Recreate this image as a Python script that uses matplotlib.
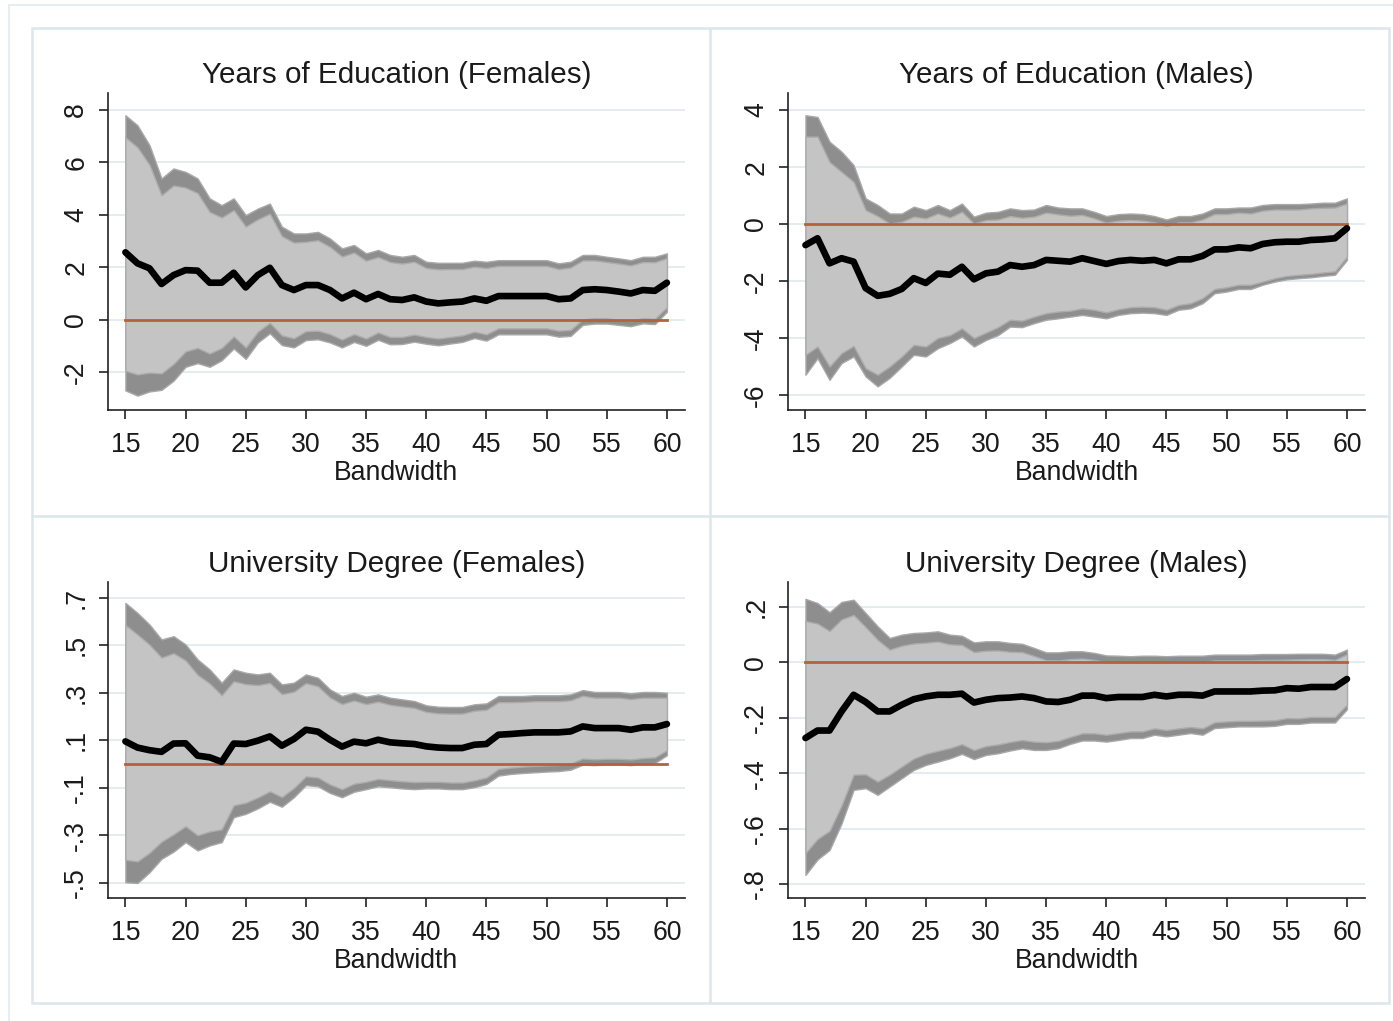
import matplotlib
matplotlib.use("Agg")
import matplotlib.pyplot as plt
from matplotlib.lines import Line2D
from matplotlib.patches import Rectangle

plt.rcParams['font.family'] = ['Liberation Sans', 'DejaVu Sans']

bandwidth = list(range(15, 61))
xticks = [15, 20, 25, 30, 35, 40, 45, 50, 55, 60]

# Years of education, females
edu_f_est = [2.57, 2.15, 1.96, 1.36, 1.70, 1.89, 1.87, 1.41, 1.41, 1.79, 1.23, 1.70, 1.98, 1.32, 1.13, 1.32,
             1.32, 1.13, 0.81, 1.03, 0.78, 0.98, 0.78, 0.75, 0.85, 0.69, 0.62, 0.66, 0.69, 0.81, 0.72, 0.90,
             0.90, 0.90, 0.90, 0.90, 0.78, 0.81, 1.13, 1.16, 1.13, 1.07, 1.00, 1.13, 1.10, 1.41]
edu_f_hi95 = [7.80, 7.42, 6.66, 5.39, 5.77, 5.64, 5.39, 4.63, 4.37, 4.63, 3.99, 4.24, 4.43, 3.55, 3.29, 3.29,
              3.35, 3.10, 2.72, 2.85, 2.53, 2.66, 2.47, 2.40, 2.47, 2.21, 2.17, 2.17, 2.17, 2.25, 2.21, 2.27,
              2.27, 2.27, 2.27, 2.27, 2.15, 2.21, 2.47, 2.47, 2.40, 2.34, 2.27, 2.40, 2.40, 2.53]
edu_f_lo95 = [-2.70, -2.90, -2.74, -2.68, -2.33, -1.80, -1.66, -1.80, -1.55, -1.10, -1.50, -0.87, -0.52, -0.97,
              -1.06, -0.78, -0.75, -0.87, -1.06, -0.85, -1.00, -0.77, -0.94, -0.93, -0.84, -0.92, -0.98, -0.91,
              -0.85, -0.70, -0.80, -0.56, -0.56, -0.56, -0.56, -0.56, -0.65, -0.62, -0.20, -0.15, -0.15, -0.20,
              -0.25, -0.14, -0.17, 0.30]
edu_f_hi90 = [6.96, 6.58, 5.91, 4.75, 5.12, 5.04, 4.83, 4.11, 3.90, 4.18, 3.55, 3.83, 4.04, 3.19, 2.94, 2.97,
              3.03, 2.78, 2.41, 2.56, 2.25, 2.39, 2.20, 2.14, 2.21, 1.97, 1.92, 1.93, 1.93, 2.02, 1.97, 2.05,
              2.05, 2.05, 2.05, 2.05, 1.93, 1.99, 2.26, 2.26, 2.20, 2.14, 2.07, 2.20, 2.19, 2.35]
edu_f_lo90 = [-1.95, -2.09, -2.02, -2.05, -1.69, -1.21, -1.08, -1.29, -1.08, -0.64, -1.06, -0.46, -0.12, -0.60,
              -0.71, -0.44, -0.42, -0.55, -0.76, -0.55, -0.72, -0.49, -0.66, -0.66, -0.57, -0.66, -0.72, -0.66,
              -0.60, -0.46, -0.56, -0.33, -0.33, -0.33, -0.33, -0.33, -0.42, -0.39, 0.01, 0.06, 0.05, 0.00,
              -0.05, 0.06, 0.03, 0.48]

# Years of education, males
edu_m_est = [-0.74, -0.50, -1.38, -1.20, -1.32, -2.25, -2.52, -2.45, -2.28, -1.90, -2.07, -1.74, -1.78, -1.50,
             -1.94, -1.73, -1.67, -1.44, -1.50, -1.44, -1.26, -1.29, -1.32, -1.20, -1.30, -1.40, -1.30, -1.26,
             -1.29, -1.26, -1.38, -1.24, -1.24, -1.12, -0.89, -0.89, -0.82, -0.85, -0.70, -0.64, -0.62, -0.62,
             -0.56, -0.54, -0.50, -0.15]
edu_m_hi95 = [3.82, 3.76, 2.89, 2.54, 2.07, 0.90, 0.67, 0.37, 0.37, 0.61, 0.49, 0.67, 0.49, 0.72, 0.26, 0.40,
              0.43, 0.55, 0.49, 0.51, 0.67, 0.58, 0.55, 0.55, 0.43, 0.28, 0.35, 0.37, 0.35, 0.28, 0.16, 0.28,
              0.28, 0.37, 0.55, 0.55, 0.58, 0.58, 0.67, 0.70, 0.70, 0.70, 0.72, 0.75, 0.75, 0.90]
edu_m_lo95 = [-5.29, -4.71, -5.47, -4.88, -4.65, -5.35, -5.70, -5.40, -5.00, -4.59, -4.65, -4.36, -4.18, -3.95,
              -4.30, -4.07, -3.90, -3.60, -3.62, -3.48, -3.36, -3.31, -3.25, -3.19, -3.25, -3.31, -3.19, -3.13,
              -3.11, -3.13, -3.19, -3.01, -2.96, -2.78, -2.43, -2.37, -2.28, -2.28, -2.13, -2.02, -1.94, -1.90,
              -1.87, -1.82, -1.78, -1.26]
edu_m_hi90 = [3.07, 3.07, 2.18, 1.83, 1.48, 0.49, 0.28, 0.02, 0.08, 0.26, 0.20, 0.37, 0.23, 0.43, 0.02, 0.14,
              0.16, 0.28, 0.22, 0.26, 0.40, 0.34, 0.29, 0.32, 0.20, 0.05, 0.12, 0.14, 0.12, 0.06, -0.07, 0.06,
              0.06, 0.16, 0.35, 0.35, 0.40, 0.37, 0.47, 0.51, 0.51, 0.51, 0.55, 0.57, 0.58, 0.72]
edu_m_lo90 = [-4.59, -4.30, -5.00, -4.53, -4.28, -5.06, -5.29, -5.00, -4.65, -4.24, -4.30, -4.00, -3.90, -3.66,
              -4.00, -3.81, -3.62, -3.36, -3.39, -3.25, -3.13, -3.07, -3.04, -2.96, -3.01, -3.10, -2.99, -2.92,
              -2.90, -2.92, -3.01, -2.84, -2.78, -2.60, -2.28, -2.22, -2.13, -2.13, -2.02, -1.90, -1.82, -1.78,
              -1.75, -1.70, -1.66, -1.14]

# University degree, females
uni_f_est = [0.096, 0.070, 0.059, 0.052, 0.087, 0.088, 0.036, 0.029, 0.010, 0.087, 0.085, 0.099, 0.117, 0.078,
             0.106, 0.145, 0.137, 0.103, 0.074, 0.095, 0.088, 0.103, 0.092, 0.088, 0.085, 0.075, 0.070, 0.068,
             0.068, 0.082, 0.085, 0.124, 0.127, 0.131, 0.134, 0.134, 0.134, 0.138, 0.159, 0.152, 0.152, 0.152,
             0.145, 0.155, 0.155, 0.169]
uni_f_hi95 = [0.679, 0.637, 0.588, 0.525, 0.539, 0.504, 0.441, 0.399, 0.343, 0.399, 0.385, 0.378, 0.385, 0.336,
              0.343, 0.378, 0.364, 0.315, 0.287, 0.301, 0.284, 0.294, 0.280, 0.273, 0.266, 0.248, 0.242, 0.241,
              0.241, 0.252, 0.256, 0.287, 0.287, 0.287, 0.290, 0.290, 0.290, 0.294, 0.312, 0.304, 0.304, 0.304,
              0.298, 0.304, 0.304, 0.301]
uni_f_lo95 = [-0.497, -0.500, -0.455, -0.398, -0.368, -0.328, -0.363, -0.342, -0.328, -0.223, -0.209, -0.186,
              -0.158, -0.179, -0.139, -0.088, -0.093, -0.121, -0.139, -0.116, -0.105, -0.093, -0.097, -0.102,
              -0.105, -0.102, -0.102, -0.105, -0.105, -0.097, -0.083, -0.048, -0.041, -0.037, -0.034, -0.031,
              -0.029, -0.023, -0.002, -0.004, -0.001, -0.001, -0.004, 0.002, 0.005, 0.038]
uni_f_hi90 = [0.586, 0.546, 0.503, 0.449, 0.467, 0.437, 0.376, 0.340, 0.290, 0.349, 0.337, 0.333, 0.342, 0.295,
              0.305, 0.341, 0.328, 0.281, 0.253, 0.268, 0.253, 0.263, 0.250, 0.243, 0.237, 0.220, 0.214, 0.213,
              0.213, 0.225, 0.229, 0.261, 0.261, 0.262, 0.265, 0.265, 0.265, 0.269, 0.288, 0.280, 0.280, 0.280,
              0.274, 0.280, 0.280, 0.280]
uni_f_lo90 = [-0.402, -0.409, -0.373, -0.326, -0.295, -0.261, -0.299, -0.283, -0.274, -0.173, -0.162, -0.140,
              -0.114, -0.138, -0.100, -0.051, -0.056, -0.085, -0.105, -0.082, -0.074, -0.062, -0.067, -0.072,
              -0.075, -0.074, -0.074, -0.077, -0.077, -0.068, -0.056, -0.020, -0.014, -0.010, -0.007, -0.005,
              -0.003, 0.003, 0.024, 0.021, 0.023, 0.023, 0.020, 0.026, 0.029, 0.059]

# University degree, males
uni_m_est = [-0.273, -0.246, -0.246, -0.177, -0.117, -0.143, -0.177, -0.177, -0.153, -0.133, -0.123, -0.117,
             -0.117, -0.113, -0.145, -0.135, -0.129, -0.127, -0.123, -0.129, -0.141, -0.143, -0.135, -0.120,
             -0.120, -0.129, -0.125, -0.125, -0.125, -0.117, -0.123, -0.117, -0.117, -0.120, -0.105, -0.105,
             -0.105, -0.105, -0.102, -0.101, -0.093, -0.095, -0.089, -0.089, -0.089, -0.060]
uni_m_hi95 = [0.229, 0.214, 0.181, 0.218, 0.226, 0.178, 0.130, 0.088, 0.100, 0.106, 0.108, 0.112, 0.100, 0.096,
              0.072, 0.076, 0.076, 0.070, 0.067, 0.052, 0.036, 0.036, 0.040, 0.040, 0.034, 0.025, 0.024, 0.022,
              0.024, 0.024, 0.022, 0.024, 0.024, 0.024, 0.028, 0.028, 0.028, 0.028, 0.030, 0.030, 0.030, 0.031,
              0.031, 0.031, 0.028, 0.046]
uni_m_lo95 = [-0.767, -0.711, -0.677, -0.581, -0.460, -0.454, -0.478, -0.448, -0.418, -0.388, -0.370, -0.358,
              -0.346, -0.330, -0.349, -0.334, -0.328, -0.318, -0.310, -0.316, -0.316, -0.310, -0.294, -0.282,
              -0.282, -0.286, -0.280, -0.273, -0.273, -0.261, -0.267, -0.261, -0.255, -0.261, -0.237, -0.234,
              -0.231, -0.231, -0.231, -0.229, -0.222, -0.222, -0.217, -0.217, -0.217, -0.169]
uni_m_hi90 = [0.149, 0.140, 0.113, 0.155, 0.171, 0.127, 0.081, 0.046, 0.060, 0.068, 0.071, 0.075, 0.065, 0.063,
              0.037, 0.042, 0.043, 0.038, 0.037, 0.023, 0.008, 0.007, 0.012, 0.014, 0.009, 0.000, 0.000, -0.002,
              0.000, 0.001, -0.001, 0.001, 0.001, 0.001, 0.007, 0.007, 0.007, 0.007, 0.009, 0.009, 0.010, 0.011,
              0.012, 0.012, 0.009, 0.029]
uni_m_lo90 = [-0.688, -0.637, -0.608, -0.516, -0.405, -0.404, -0.430, -0.405, -0.376, -0.347, -0.330, -0.319,
              -0.309, -0.295, -0.316, -0.302, -0.296, -0.287, -0.280, -0.286, -0.288, -0.283, -0.269, -0.256,
              -0.256, -0.261, -0.255, -0.249, -0.249, -0.238, -0.244, -0.238, -0.233, -0.238, -0.216, -0.213,
              -0.211, -0.211, -0.210, -0.209, -0.201, -0.202, -0.197, -0.197, -0.197, -0.152]

titles = ["Years of Education (Females)", "Years of Education (Males)",
          "University Degree (Females)", "University Degree (Males)"]
edu_f_yticks = [-2, 0, 2, 4, 6, 8]
edu_m_yticks = [-6, -4, -2, 0, 2, 4]
uni_f_yticks = [-0.5, -0.3, -0.1, 0.1, 0.3, 0.5, 0.7]
uni_m_yticks = [-0.8, -0.6, -0.4, -0.2, 0.0, 0.2]
edu_f_ylabels = ["-2", "0", "2", "4", "6", "8"]
edu_m_ylabels = ["-6", "-4", "-2", "0", "2", "4"]
uni_f_ylabels = ["-.5", "-.3", "-.1", ".1", ".3", ".5", ".7"]
uni_m_ylabels = ["-.8", "-.6", "-.4", "-.2", "0", ".2"]

panels = [
    dict(title=titles[0], est=edu_f_est, lo95=edu_f_lo95, hi95=edu_f_hi95, lo90=edu_f_lo90, hi90=edu_f_hi90,
         yticks=edu_f_yticks, ylabels=edu_f_ylabels, ylim=(-3.45, 8.65),
         rect=[0.0775, 0.5984, 0.4142, 0.3105]),
    dict(title=titles[1], est=edu_m_est, lo95=edu_m_lo95, hi95=edu_m_hi95, lo90=edu_m_lo90, hi90=edu_m_hi90,
         yticks=edu_m_yticks, ylabels=edu_m_ylabels, ylim=(-6.53, 4.6),
         rect=[0.5657, 0.5984, 0.4142, 0.3105]),
    dict(title=titles[2], est=uni_f_est, lo95=uni_f_lo95, hi95=uni_f_hi95, lo90=uni_f_lo90, hi90=uni_f_hi90,
         yticks=uni_f_yticks, ylabels=uni_f_ylabels, ylim=(-0.563, 0.767),
         rect=[0.0775, 0.1205, 0.4142, 0.3095]),
    dict(title=titles[3], est=uni_m_est, lo95=uni_m_lo95, hi95=uni_m_hi95, lo90=uni_m_lo90, hi90=uni_m_hi90,
         yticks=uni_m_yticks, ylabels=uni_m_ylabels, ylim=(-0.85, 0.29),
         rect=[0.5657, 0.1205, 0.4142, 0.3095]),
]

W, H = 1393, 1021
fig = plt.figure(figsize=(W / 100, H / 100), dpi=100)
fig.patch.set_facecolor("white")

frame_col = "#dde7eb"


def px(x, y):
    return x / W, 1 - y / H


# outer border and the 2x2 panel boxes
fig.add_artist(Rectangle(px(9, 1030), (1400 - 9) / W, (1030 - 5) / H, transform=fig.transFigure,
                         fill=False, edgecolor="#e6eef1", linewidth=1.5))
fig.add_artist(Rectangle(px(32, 1003), (1389 - 32) / W, (1003 - 28) / H, transform=fig.transFigure,
                         fill=False, edgecolor=frame_col, linewidth=1.8))
x0, y0 = px(710, 28)
x1, y1 = px(710, 1003)
fig.add_artist(Line2D([x0, x1], [y0, y1], transform=fig.transFigure, color=frame_col, linewidth=1.8))
x0, y0 = px(32, 516)
x1, y1 = px(1389, 516)
fig.add_artist(Line2D([x0, x1], [y0, y1], transform=fig.transFigure, color=frame_col, linewidth=1.8))

for p in panels:
    ax = fig.add_axes(p["rect"])
    ax.set_facecolor("white")
    for yt in p["yticks"]:
        ax.axhline(yt, color="#e3ebef", linewidth=1.3, zorder=0)
    ax.fill_between(bandwidth, p["lo95"], p["hi95"], facecolor="#8e8e8e", edgecolor="#a9a9a9",
                    linewidth=1.0, zorder=1)
    ax.fill_between(bandwidth, p["lo90"], p["hi90"], facecolor="#c4c4c4", edgecolor="#acacac",
                    linewidth=1.0, zorder=2)
    ax.plot(bandwidth, [0] * len(bandwidth), color="#b5623b", linewidth=2.0, zorder=3)
    ax.plot(bandwidth, p["est"], color="black", linewidth=4.8, solid_joinstyle="round",
            solid_capstyle="round", zorder=4)

    ax.set_xlim(13.55, 61.5)
    ax.set_ylim(*p["ylim"])
    ax.set_xticks(xticks)
    ax.set_xticklabels([str(t) for t in xticks])
    ax.set_yticks(p["yticks"])
    ax.set_yticklabels(p["ylabels"], rotation=90, va="center")
    for s in ["top", "right"]:
        ax.spines[s].set_visible(False)
    for s in ["left", "bottom"]:
        ax.spines[s].set_linewidth(1.2)
        ax.spines[s].set_color("#222222")
    ax.tick_params(axis="both", length=6.5, width=1.2, color="#222222", labelsize=19.2,
                   labelcolor="#1a1a1a")
    ax.tick_params(axis="x", pad=9.5)
    ax.tick_params(axis="y", pad=7)
    ax.set_xlabel("Bandwidth", fontsize=19.2, color="#1a1a1a", labelpad=1.5)
    ax.set_title(p["title"], fontsize=21.3, color="#1a1a1a", pad=7)

fig.savefig("out.png", dpi=100, facecolor="white")
